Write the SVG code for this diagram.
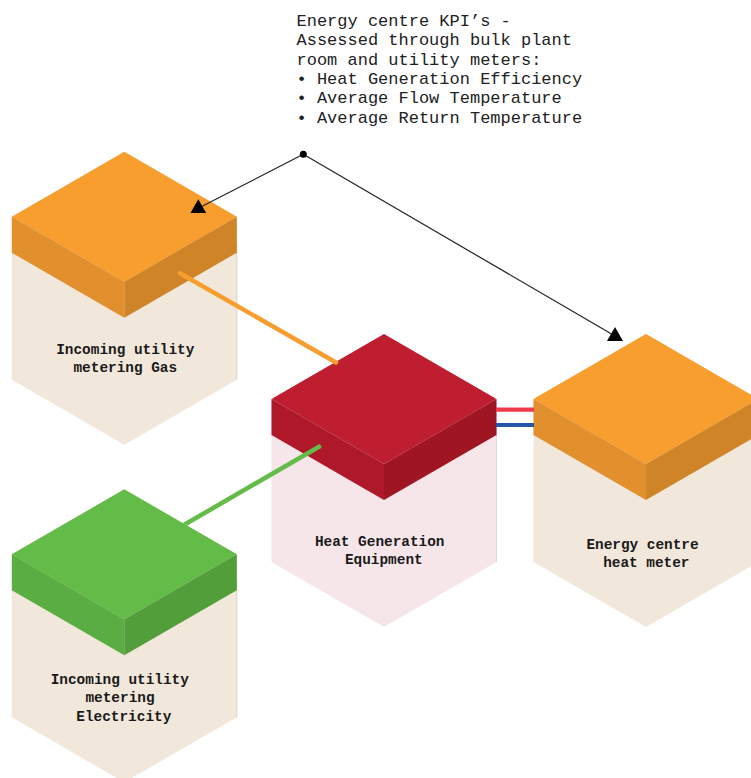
<svg xmlns="http://www.w3.org/2000/svg" width="751" height="778" viewBox="0 0 751 778">
  <style>
    .body-cream { fill: #F1E7DA; }
    .body-pink { fill: #F7E6E9; }
    .edge { fill: none; stroke: #DCD3C7; stroke-width: 1; }
    .edge-pink { fill: none; stroke: #E9D6DA; stroke-width: 1; }
    .or-top { fill: #F79E2F; } .or-left { fill: #E28F2D; } .or-right { fill: #CF8428; }
    .rd-top { fill: #BE1E2F; } .rd-left { fill: #AE1828; } .rd-right { fill: #9F1522; }
    .gr-top { fill: #63BC47; } .gr-left { fill: #5AAD42; } .gr-right { fill: #529E3B; }
    .label { font-family: "Liberation Mono", "DejaVu Sans Mono", monospace; font-size: 14.4px; font-weight: bold; fill: #1A1A1A; text-anchor: middle; }
    .note { font-family: "Liberation Mono", "DejaVu Sans Mono", monospace; font-size: 17px; fill: #222222; }
    .feed { fill: none; stroke-width: 4.5; stroke-linecap: round; }
    .pipe { fill: none; stroke-width: 4.2; }
    .pointer { fill: none; stroke: #222222; stroke-width: 1.2; marker-end: url(#tri); }
  </style>
  <defs>
    <marker id="tri" viewBox="0 0 16 14" refX="8" refY="9" markerWidth="16" markerHeight="14" markerUnits="userSpaceOnUse" orient="0">
      <path d="M8 0 L16 14 L0 14 Z" fill="#000000"/>
    </marker>
    <!-- shared block geometry, origin at the top apex -->
    <polygon id="hex" points="0,0 112.5,65 112.5,228 0,293 -112.5,228 -112.5,65"/>
    <polygon id="face-top" points="0,0 112.5,65 0,130 -112.5,65"/>
    <polygon id="face-left" points="-112.5,65 0,130 0,166 -112.5,101"/>
    <polygon id="face-right" points="0,130 112.5,65 112.5,101 0,166"/>
  </defs>

  <!-- Gas meter block -->
  <g id="gas-meter" transform="translate(124.3,151.7)">
    <use href="#hex" class="body-cream"/>
    <line class="edge" x1="112.5" y1="90" x2="112.5" y2="228"/>
    <use href="#face-top" class="or-top"/>
    <use href="#face-left" class="or-left"/>
    <use href="#face-right" class="or-right"/>
    <text class="label" x="1" y="202.3">Incoming utility</text>
    <text class="label" x="1" y="220.3">metering Gas</text>
  </g>

  <!-- Heat generation block -->
  <g id="heat-generation" transform="translate(384,334)">
    <use href="#hex" class="body-pink"/>
    <line class="edge-pink" x1="112.5" y1="90" x2="112.5" y2="228"/>
    <use href="#face-top" class="rd-top"/>
    <use href="#face-left" class="rd-left"/>
    <use href="#face-right" class="rd-right"/>
    <text class="label" x="-4.3" y="211.8">Heat Generation</text>
    <text class="label" x="-0.2" y="230.3">Equipment</text>
  </g>

  <!-- Energy centre heat meter block -->
  <g id="heat-meter" transform="translate(646,334)">
    <use href="#hex" class="body-cream"/>
    <use href="#face-top" class="or-top"/>
    <use href="#face-left" class="or-left"/>
    <use href="#face-right" class="or-right"/>
    <text class="label" x="-3.5" y="215">Energy centre</text>
    <text class="label" x="0.3" y="233">heat meter</text>
  </g>

  <!-- Connectors -->
  <g id="connectors">
    <line class="feed" stroke="#F79E2F" x1="180" y1="273.3" x2="336" y2="362.5"/>
    <line class="feed" stroke="#63BC47" x1="319" y1="446.7" x2="170" y2="533"/>
    <line class="pipe" stroke="#EE3A4C" x1="496" y1="409.7" x2="534" y2="409.7"/>
    <line class="pipe" stroke="#2457A7" x1="496" y1="425" x2="534" y2="425"/>
    <line class="pointer" x1="303.3" y1="154.3" x2="198.3" y2="208.3"/>
    <line class="pointer" x1="303.3" y1="154.3" x2="615" y2="336"/>
    <circle cx="303.3" cy="154.3" r="3.5" fill="#000000"/>
  </g>

  <!-- Electricity meter block -->
  <g id="electricity-meter" transform="translate(124.3,489.3)">
    <use href="#hex" class="body-cream"/>
    <line class="edge" x1="112.5" y1="90" x2="112.5" y2="228"/>
    <use href="#face-top" class="gr-top"/>
    <use href="#face-left" class="gr-left"/>
    <use href="#face-right" class="gr-right"/>
    <text class="label" x="-4.5" y="194.7">Incoming utility</text>
    <text class="label" x="-4.3" y="213.2">metering</text>
    <text class="label" x="-0.5" y="231.7">Electricity</text>
  </g>

  <!-- KPI note -->
  <g id="kpi-note">
    <text class="note" x="296.5" y="26">Energy centre KPI’s -</text>
    <text class="note" x="296.5" y="45.3">Assessed through bulk plant</text>
    <text class="note" x="296.5" y="64.6">room and utility meters:</text>
    <text class="note" x="296.5" y="83.9">• Heat Generation Efficiency</text>
    <text class="note" x="296.5" y="103.2">• Average Flow Temperature</text>
    <text class="note" x="296.5" y="122.5">• Average Return Temperature</text>
  </g>
</svg>
